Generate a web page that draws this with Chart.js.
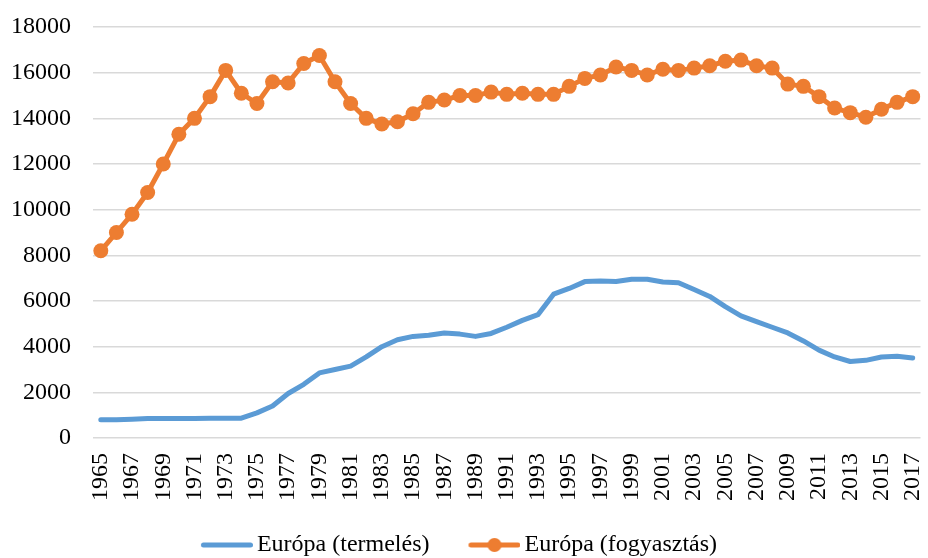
<!DOCTYPE html>
<html>
<head>
<meta charset="utf-8">
<script src="https://cdn.jsdelivr.net/npm/chart.js@4/dist/chart.umd.min.js"></script>
<style>
  html, body { margin: 0; padding: 0; background: #fff; }
  #wrap { width: 928px; height: 558px; }
</style>
</head>
<body>
<div id="wrap"><canvas id="chart"></canvas></div>
<script>
const years = [];
for (let y = 1965; y <= 2017; y++) years.push(String(y));

const termeles = [
  800, 800, 820, 850, 850, 850, 850, 870, 870, 870,
  1100, 1400, 1950, 2350, 2850, 3000, 3150, 3550, 4000, 4300,
  4450, 4500, 4600, 4550, 4450, 4580, 4850, 5150, 5400, 6300,
  6550, 6850, 6880, 6850, 6950, 6950, 6830, 6800, 6500, 6200,
  5750, 5350, 5100, 4850, 4600, 4250, 3850, 3550, 3350, 3400,
  3550, 3580, 3500
];

const fogyasztas = [
  8200, 9000, 9800, 10750, 12000, 13300, 14000, 14950, 16100, 15100,
  14650, 15600, 15550, 16400, 16750, 15600, 14650, 14000, 13750, 13850,
  14200, 14700, 14800, 15000, 15000, 15150, 15050, 15100, 15050, 15050,
  15400, 15750, 15900, 16250, 16100, 15900, 16150, 16100, 16200, 16300,
  16500, 16550, 16300, 16200, 15500, 15400, 14950, 14450, 14250, 14050,
  14400, 14700, 14950
];

const BLUE = '#5B9BD5';
const ORANGE = '#ED7D31';
const FONT = '"Liberation Serif", "Times New Roman", serif';

// legend samples: line (and dot) sitting right next to the text
function legendSample(color, dot) {
  const c = document.createElement('canvas');
  c.width = 74; c.height = 16;
  const g = c.getContext('2d');
  g.strokeStyle = color;
  g.lineWidth = 5;
  g.lineCap = 'round';
  g.beginPath(); g.moveTo(24.5, 8); g.lineTo(71.5, 8); g.stroke();
  if (dot) {
    g.fillStyle = color;
    g.beginPath(); g.arc(48, 8, 7, 0, Math.PI * 2); g.fill();
  }
  return c;
}
const samples = [legendSample(BLUE, false), legendSample(ORANGE, true)];

// nudge the legend a bit left, like the original
const legendShift = {
  id: 'legendShift',
  afterLayout(chart) {
    chart.legend.left -= 10;
    chart.legend.right -= 10;
  }
};

new Chart(document.getElementById('chart'), {
  type: 'line',
  data: {
    labels: years,
    datasets: [{
      label: 'Európa (termelés)',
      data: termeles,
      borderColor: BLUE,
      backgroundColor: BLUE,
      borderWidth: 5,
      pointRadius: 0,
      tension: 0,
      borderCapStyle: 'round',
      borderJoinStyle: 'round'
    }, {
      label: 'Európa (fogyasztás)',
      data: fogyasztas,
      borderColor: ORANGE,
      backgroundColor: ORANGE,
      borderWidth: 5,
      pointRadius: 7.5,
      pointBorderWidth: 0,
      pointBackgroundColor: ORANGE,
      tension: 0,
      borderJoinStyle: 'round'
    }]
  },
  plugins: [legendShift],
  options: {
    responsive: true,
    maintainAspectRatio: false,
    animation: false,
    layout: { padding: { top: 27, right: 4, left: 0, bottom: -9 } },
    plugins: {
      tooltip: { enabled: false },
      legend: {
        position: 'bottom',
        labels: {
          color: '#000',
          font: { family: FONT, size: 24 },
          usePointStyle: true,
          pointStyleWidth: 58,
          boxHeight: 16,
          padding: 25,
          generateLabels: chart => Chart.defaults.plugins.legend.labels.generateLabels(chart)
            .map((item, i) => Object.assign(item, { pointStyle: samples[i] }))
        }
      }
    },
    scales: {
      x: {
        offset: true,
        grid: { display: false, drawTicks: false },
        border: { display: false },
        afterFit: s => {
          s.height = 70;
          s.paddingLeft = 0;
          s.paddingRight = 0;
        },
        ticks: {
          color: '#000',
          font: { family: FONT, size: 24 },
          autoSkip: false,
          minRotation: 90,
          maxRotation: 90,
          padding: 15,
          callback: (v, i) => i % 2 === 0 ? years[i] : ''
        }
      },
      y: {
        min: 0,
        max: 18000,
        grid: { color: '#d9d9d9', lineWidth: 1.5, drawTicks: false },
        border: { display: false },
        afterFit: s => {
          s.width = 93;
          s.paddingTop = 0;
          s.paddingBottom = 0;
        },
        ticks: {
          stepSize: 2000,
          color: '#000',
          font: { family: FONT, size: 24 },
          padding: 22,
          callback: v => String(v)
        }
      }
    }
  }
});
</script>
</body>
</html>
